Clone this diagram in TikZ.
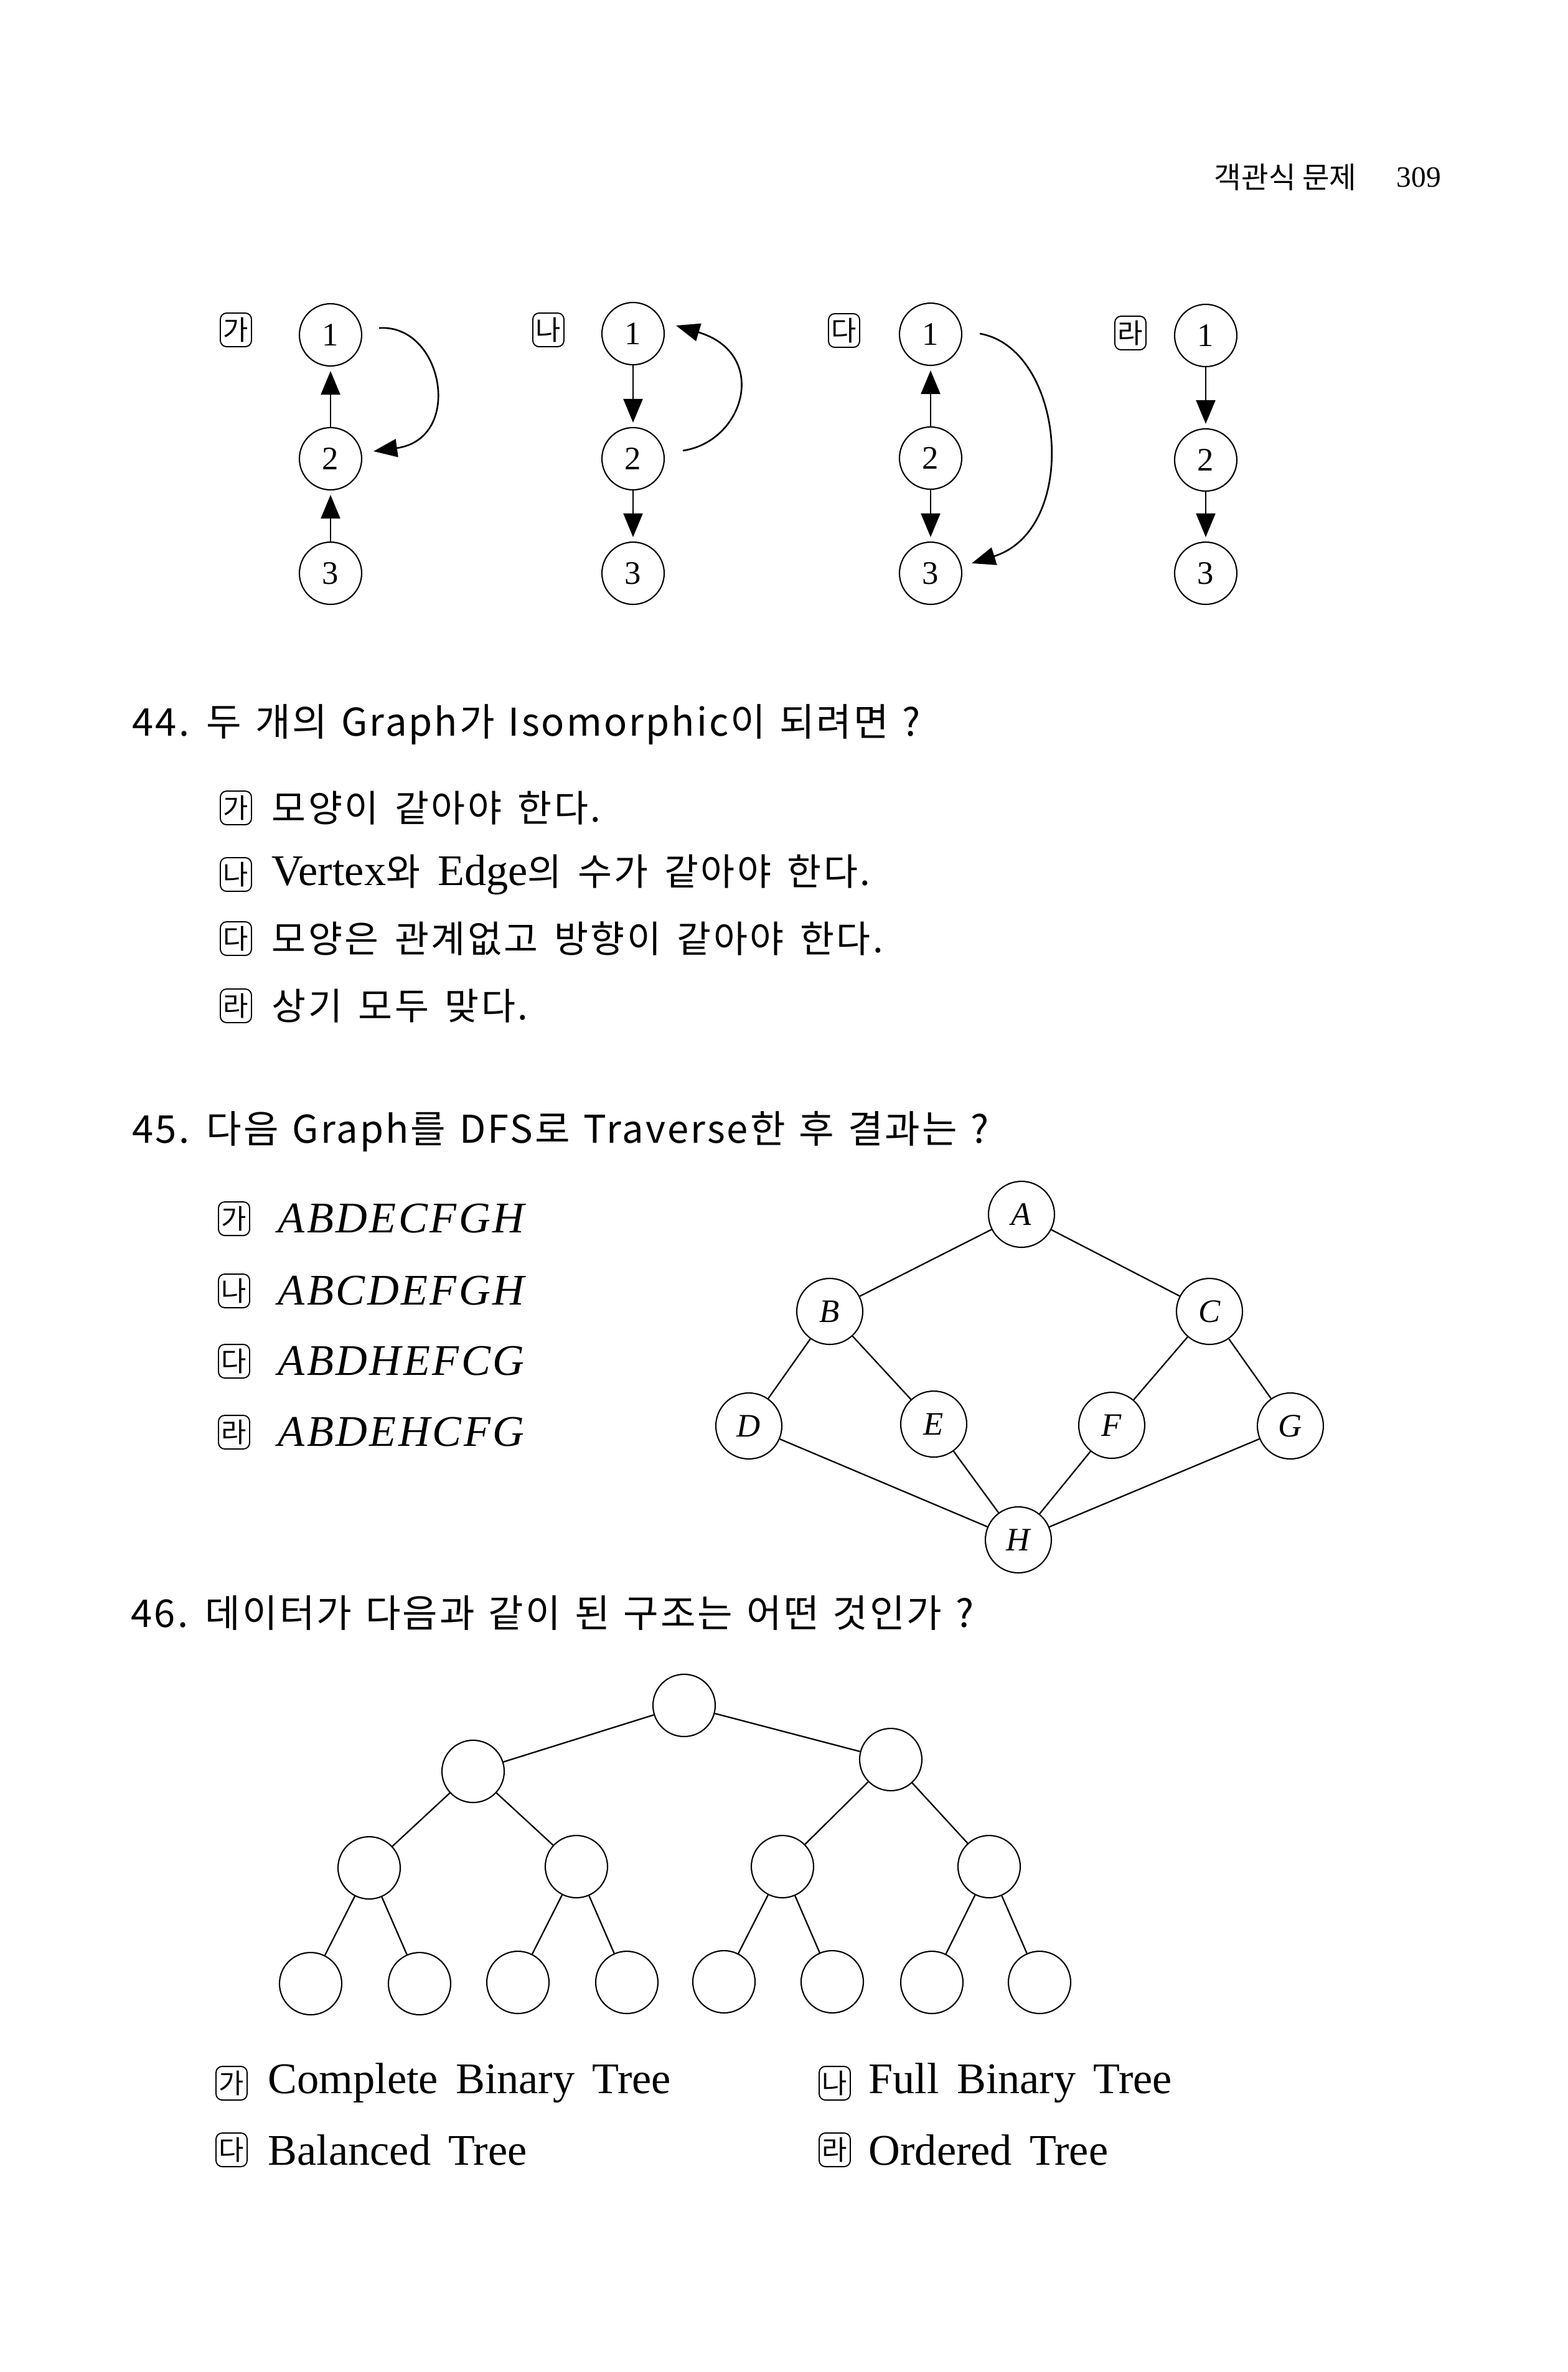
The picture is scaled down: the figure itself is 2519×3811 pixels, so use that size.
\documentclass[tikz,border=0pt]{standalone}
\usepackage{fontspec}
\setmainfont{Liberation Serif}
\newfontfamily\kor{Noto Sans CJK KR}
\newfontfamily\korq{Noto Sans CJK KR}[LetterSpace=5,WordSpace=1.3]
\newfontfamily\kora{Noto Sans CJK KR}[LetterSpace=6,WordSpace=1.5]
\newfontfamily\ansfont{Liberation Serif}[WordSpace=1.6]
\usetikzlibrary{arrows.meta}

\newcommand{\kotext}[1]{{\kora\fontsize{17}{18}\selectfont #1}}

\begin{document}
\begin{tikzpicture}[x=0.1mm, y=-0.1mm,
    num/.style={circle, draw=black, line width=0.6pt, minimum size=10mm,
        inner sep=0pt, font=\fontsize{15}{16}\selectfont},
    vertex/.style={circle, draw=black, line width=0.6pt, minimum size=10.6mm,
        inner sep=0pt, font=\fontsize{15}{16}\selectfont\itshape},
    leaf/.style={circle, draw=black, line width=0.6pt, minimum size=10mm},
    choice/.style={draw=black, line width=0.55pt, rounded corners=1mm,
        minimum width=5mm, minimum height=5.4mm, inner sep=0pt,
        font=\kor\fontsize{12.5}{13}\selectfont},
    edge/.style={line width=0.65pt, -},
    diedge/.style={line width=0.65pt, -{Triangle[length=3.8mm,width=3.1mm]},
        shorten >=0.7mm},
    loopedge/.style={line width=0.75pt, -{Triangle[length=3.8mm,width=2.9mm]}},
    question/.style={anchor=west, inner sep=0pt,
        font=\korq\fontsize{17.5}{18}\selectfont},
    answer/.style={anchor=west, inner sep=0pt,
        font=\ansfont\fontsize{20}{22}\selectfont},
    path/.style={anchor=west, inner sep=0pt,
        font=\fontsize{20}{22}\selectfont\itshape\addfontfeature{LetterSpace=5}}
]
    \path[use as bounding box, fill=white] (0,0) rectangle (2519,3811);

    \node[anchor=west, inner sep=0pt, font=\kor\fontsize{13.5}{14}\selectfont]
        (title) at (1950,285) {객관식 문제};
    \node[anchor=west, inner sep=0pt, font=\fontsize{13.5}{14}\selectfont]
        (page) at (2243,285) {309};

    \node[choice] (g1) at (379,530) {가};
    \node[num] (ka1) at (531,538) {1};
    \node[num] (ka2) at (531,737) {2};
    \node[num] (ka3) at (531,921) {3};
    \draw[diedge] (ka2) -- (ka1);
    \draw[diedge] (ka3) -- (ka2);
    \draw[loopedge] ([shift={(27,-11)}]ka1.east) .. controls +(103,-7) and +(146,-20) .. ([shift={(18,-12)}]ka2.east);

    \node[choice] (g2) at (881,530) {나};
    \node[num] (na1) at (1017,536) {1};
    \node[num] (na2) at (1017,737) {2};
    \node[num] (na3) at (1017,921) {3};
    \draw[diedge] (na1) -- (na2);
    \draw[diedge] (na2) -- (na3);
    \draw[loopedge] ([shift={(29,-13)}]na2.east) .. controls +(100,-15) and +(150,45) .. ([shift={(18,-13)}]na1.east);

    \node[choice] (g3) at (1356,531) {다};
    \node[num] (da1) at (1495,537) {1};
    \node[num] (da2) at (1495,736) {2};
    \node[num] (da3) at (1495,921) {3};
    \draw[diedge] (da2) -- (da1);
    \draw[diedge] (da2) -- (da3);
    \draw[loopedge] ([shift={(28,-1)}]da1.east) .. controls +(137,24) and +(175,-55) .. ([shift={(15,-16)}]da3.east);

    \node[choice] (g4) at (1816,535) {라};
    \node[num] (ra1) at (1937,539) {1};
    \node[num] (ra2) at (1937,739) {2};
    \node[num] (ra3) at (1937,921) {3};
    \draw[diedge] (ra1) -- (ra2);
    \draw[diedge] (ra2) -- (ra3);

    \node[question] (q44) at (212,1164) {44. 두 개의 Graph가 Isomorphic이 되려면 ?};
    \node[choice] (c44a) at (379,1298) {가};
    \node[answer] (a44a) at (436,1298) {\kotext{모양이 같아야 한다.}};
    \node[choice] (c44b) at (379,1405) {나};
    \node[answer] (a44b) at (436,1405) {Vertex\kotext{와} Edge\kotext{의 수가 같아야 한다.}};
    \node[choice] (c44c) at (379,1508) {다};
    \node[answer] (a44c) at (436,1508) {\kotext{모양은 관계없고 방향이 같아야 한다.}};
    \node[choice] (c44d) at (379,1616) {라};
    \node[answer] (a44d) at (436,1616) {\kotext{상기 모두 맞다.}};

    \node[question] (q45) at (212,1818) {45. 다음 Graph를 DFS로 Traverse한 후 결과는 ?};
    \node[choice] (c45a) at (376,1958) {가};
    \node[path] (a45a) at (446,1958) {ABDECFGH};
    \node[choice] (c45b) at (376,2074) {나};
    \node[path] (a45b) at (446,2074) {ABCDEFGH};
    \node[choice] (c45c) at (376,2187) {다};
    \node[path] (a45c) at (446,2187) {ABDHEFCG};
    \node[choice] (c45d) at (376,2301) {라};
    \node[path] (a45d) at (446,2301) {ABDEHCFG};

    \node[vertex] (a) at (1641,1951) {A};
    \node[vertex] (b) at (1333,2107) {B};
    \node[vertex] (c) at (1943,2107) {C};
    \node[vertex] (d) at (1203,2291) {D};
    \node[vertex] (e) at (1500,2288) {E};
    \node[vertex] (f) at (1786,2290) {F};
    \node[vertex] (g) at (2073,2291) {G};
    \node[vertex] (h) at (1636,2474) {H};
    \draw[edge] (a) -- (b);
    \draw[edge] (a) -- (c);
    \draw[edge] (b) -- (d);
    \draw[edge] (b) -- (e);
    \draw[edge] (c) -- (f);
    \draw[edge] (c) -- (g);
    \draw[edge] (d) -- (h);
    \draw[edge] (e) -- (h);
    \draw[edge] (f) -- (h);
    \draw[edge] (g) -- (h);

    \node[question] (q46) at (210,2591) {46. 데이터가 다음과 같이 된 구조는 어떤 것인가 ?};
    \node[leaf] (t0) at (1099,2740) {};
    \node[leaf] (t1) at (760,2846) {};
    \node[leaf] (t2) at (1431,2827) {};
    \node[leaf] (t3) at (593,3001) {};
    \node[leaf] (t4) at (926,2999) {};
    \node[leaf] (t5) at (1257,2999) {};
    \node[leaf] (t6) at (1589,2999) {};
    \node[leaf] (t7) at (499,3187) {};
    \node[leaf] (t8) at (674,3187) {};
    \node[leaf] (t9) at (832,3185) {};
    \node[leaf] (t10) at (1007,3185) {};
    \node[leaf] (t11) at (1163,3184) {};
    \node[leaf] (t12) at (1337,3184) {};
    \node[leaf] (t13) at (1497,3185) {};
    \node[leaf] (t14) at (1670,3185) {};
    \draw[edge] (t0) -- (t1);
    \draw[edge] (t0) -- (t2);
    \draw[edge] (t1) -- (t3);
    \draw[edge] (t1) -- (t4);
    \draw[edge] (t2) -- (t5);
    \draw[edge] (t2) -- (t6);
    \draw[edge] (t3) -- (t7);
    \draw[edge] (t3) -- (t8);
    \draw[edge] (t4) -- (t9);
    \draw[edge] (t4) -- (t10);
    \draw[edge] (t5) -- (t11);
    \draw[edge] (t5) -- (t12);
    \draw[edge] (t6) -- (t13);
    \draw[edge] (t6) -- (t14);

    \node[choice] (c46a) at (372,3347) {가};
    \node[answer] (a46a) at (430,3347) {Complete Binary Tree};
    \node[choice] (c46b) at (1341,3347) {나};
    \node[answer] (a46b) at (1395,3347) {Full Binary Tree};
    \node[choice] (c46c) at (372,3454) {다};
    \node[answer] (a46c) at (430,3454) {Balanced Tree};
    \node[choice] (c46d) at (1341,3454) {라};
    \node[answer] (a46d) at (1395,3454) {Ordered Tree};
\end{tikzpicture}
\end{document}
